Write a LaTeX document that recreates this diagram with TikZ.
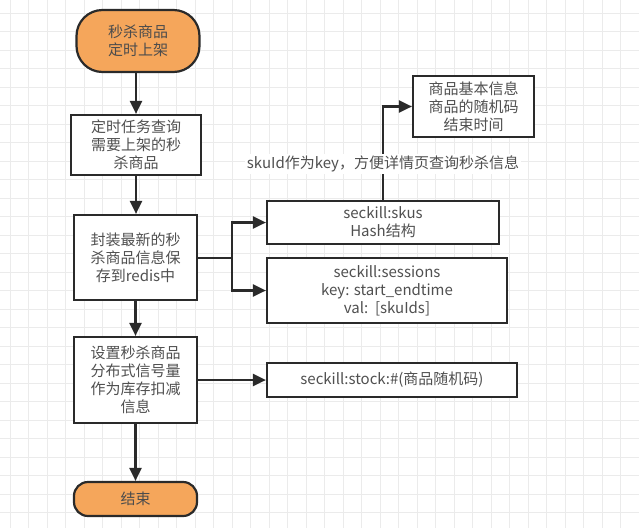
\documentclass[tikz,border=0pt]{standalone}
\usepackage{fontspec}
\setmainfont{Noto Sans CJK SC}
\usetikzlibrary{arrows.meta,calc}
\definecolor{lineC}{HTML}{2A2A2A}
\definecolor{txtC}{HTML}{505050}
\definecolor{orangeC}{HTML}{F5A65B}
\definecolor{gridC}{HTML}{EBEBEB}
\begin{document}
\begin{tikzpicture}[x=1pt,y=-1pt,
  every node/.style={font=\fontsize{15}{18}\selectfont, text=txtC, align=center, inner sep=0pt},
  boxstyle/.style={draw=lineC, line width=2.2pt, fill=white, minimum width=#1},
  termstyle/.style={draw=lineC, line width=2.2pt, fill=orangeC, rounded corners=14pt, text=black!70},
  arr/.style={draw=lineC, line width=2.2pt, -{Triangle[length=13pt,width=12pt]}},
  plain/.style={draw=lineC, line width=2.2pt}]
\useasboundingbox (0,0) rectangle (639,528);
\fill[white] (0,0) rectangle (639,528);
% faint background grid
\foreach \gx in {10,28.5,...,639} \draw[gridC, line width=0.6pt] (\gx,0) -- (\gx,528);
\foreach \gy in {13,31.5,...,528} \draw[gridC, line width=0.6pt] (0,\gy) -- (639,\gy);

\node[termstyle, minimum width=123pt, minimum height=62pt, rounded corners=26pt] (start) at (138,41) {秒杀商品\\定时上架};
\node[boxstyle=130pt, minimum height=60pt] (b2) at (136,145) {定时任务查询\\需要上架的秒\\杀商品};
\node[boxstyle=123pt, minimum height=85pt] (b3) at (135.5,257.5) {封装最新的秒\\杀商品信息保\\存到redis中};
\node[boxstyle=123pt, minimum height=86pt] (b4) at (135.5,380) {设置秒杀商品\\分布式信号量\\作为库存扣减\\信息};
\node[termstyle, minimum width=123pt, minimum height=34pt] (end) at (135.5,499) {结束};

\node[boxstyle=232pt, minimum height=43pt] (skus) at (383,222.5) {seckill:skus\\Hash结构};
\node[boxstyle=240pt, minimum height=65pt] (sess) at (387,290.5) {seckill:sessions\\key: start\_endtime\\val:\ \ [skuIds]};
\node[boxstyle=121pt, minimum height=61pt] (info) at (473.5,106.5) {商品基本信息\\商品的随机码\\结束时间};
\node[boxstyle=250pt, minimum height=34pt] (stock) at (392,380) {seckill:stock:\#(商品随机码)};

\draw[arr] (b2.north |- start.south) -- (b2.north);
\draw[arr] (b2.south) -- (b3.north -| b2.south);
\draw[arr] (b3.south) -- (b4.north);
\draw[arr] (b4.south) -- (end.north);

\coordinate (br) at (232,258);
\draw[plain] (b3.east |- br) -- (br);
\draw[arr] (br) |- (skus.west);
\draw[arr] (br) |- (sess.west);

\draw[arr] (skus.north) |- (info.west);
\node[fill=white, inner sep=2pt] (lbl) at (383,164) {skuId作为key，方便详情页查询秒杀信息};

\draw[arr] (b4.east) -- (stock.west);
\end{tikzpicture}
\end{document}
